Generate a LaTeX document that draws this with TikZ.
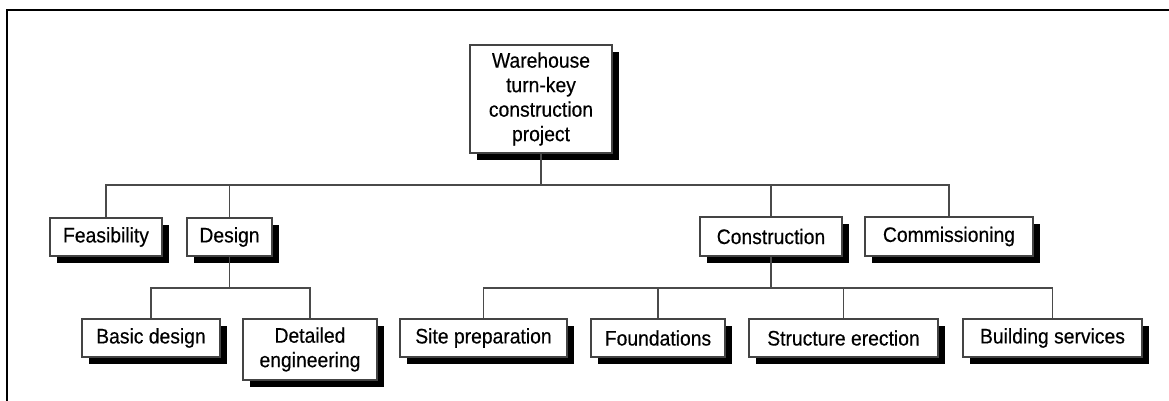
\documentclass[tikz,border=0pt]{standalone}
\usepackage{fontspec}
\setmainfont[FakeStretch=0.92,FakeBold=0.4]{Liberation Sans}
\usetikzlibrary{shadows}
\definecolor{boxline}{HTML}{444444}
\definecolor{conline}{HTML}{4A4A4A}
\begin{document}
\begin{tikzpicture}[x=1pt,y=-1pt,
  wbox/.style={draw=boxline, line width=1.3pt, fill=white, inner sep=0pt,
    align=center, font=\fontsize{21}{24.5}\selectfont,
    drop shadow={shadow xshift=7pt, shadow yshift=-7pt, fill=black, opacity=1}},
  conn/.style={draw=conline, line width=1.3pt}]
\useasboundingbox (0,0) rectangle (1169,401);
\fill[white] (0,0) rectangle (1169,401);
\draw[line width=2.5pt, black] (1169,10) -- (7,10) -- (7,401);
% level 0
\node[wbox, minimum width=142pt, minimum height=108pt] (root) at (541,99)
  {Warehouse\\turn-key\\construction\\project};
% level 1
\node[wbox, minimum width=112pt, minimum height=38pt] (feas) at (106,237) {Feasibility};
\node[wbox, minimum width=85pt, minimum height=38pt] (design) at (229.5,237) {Design};
\node[wbox, minimum width=142pt, minimum height=39pt] (constr) at (771,236.5) {Construction};
\node[wbox, minimum width=168pt, minimum height=39pt] (comm) at (949,236.5) {Commissioning};
% level 2 design
\node[wbox, minimum width=138pt, minimum height=38pt] (basic) at (151,338) {Basic design};
\node[wbox, minimum width=134pt, minimum height=61pt] (detail) at (310,349.5) {Detailed\\engineering};
% level 2 construction
\node[wbox, minimum width=167pt, minimum height=38pt] (site) at (483.5,338) {Site preparation};
\node[wbox, minimum width=134pt, minimum height=38pt] (found) at (658,338) {Foundations};
\node[wbox, minimum width=189pt, minimum height=38pt] (struct) at (843.5,338) {Structure erection};
\node[wbox, minimum width=179pt, minimum height=38pt] (build) at (1052.5,338) {Building services};
% connectors
\coordinate (b1) at (541,185);
\coordinate (b2) at (229.5,288);
\coordinate (b3) at (771,288);
\draw[conn] (root.south) -- (b1);
\draw[conn] (feas.north) |- (b1) -| (comm.north);
\draw[conn] (design.north) -- (design.north |- b1);
\draw[conn] (constr.north) -- (constr.north |- b1);
\draw[conn] (design.south) -- (b2);
\draw[conn] (basic.north) |- (b2) -| (detail.north);
\draw[conn] (constr.south) -- (b3);
\draw[conn] (site.north) |- (b3) -| (build.north);
\draw[conn] (found.north) -- (found.north |- b3);
\draw[conn] (struct.north) -- (struct.north |- b3);
\end{tikzpicture}
\end{document}
